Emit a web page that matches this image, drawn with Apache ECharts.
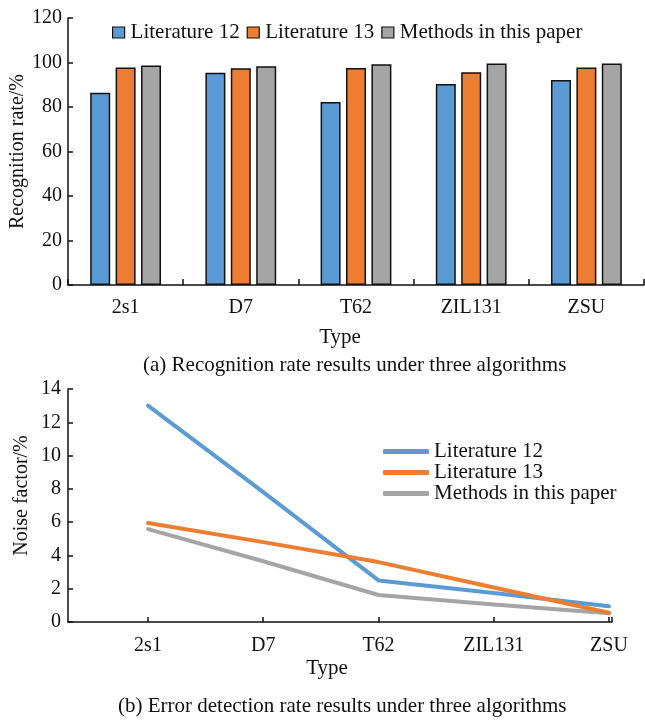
<!DOCTYPE html>
<html>
<head>
<meta charset="utf-8">
<script src="https://cdn.jsdelivr.net/npm/echarts@6/dist/echarts.min.js"></script>
<style>
html,body{margin:0;padding:0;background:#fff;}
#c1{position:absolute;left:0;top:0;width:645px;height:380px;}
#c2{position:absolute;left:0;top:380px;width:645px;height:340px;}
</style>
</head>
<body>
<div id="c1"></div>
<div id="c2"></div>
<script>
// ---- data ----
const categories = ['2s1', 'D7', 'T62', 'ZIL131', 'ZSU'];
const seriesNames = ['Literature 12', 'Literature 13', 'Methods in this paper'];
// (a) recognition rate (%)
const recLit12 = [86.4, 95.4, 82.2, 90.3, 92.1];
const recLit13 = [97.7, 97.4, 97.5, 95.6, 97.8];
const recOurs  = [98.6, 98.3, 99.2, 99.6, 99.6];
// (b) noise factor (%)
const noiseLit12 = [13.0, 7.8, 2.5, 1.74, 0.95];
const noiseLit13 = [5.95, 4.8, 3.6, 2.07, 0.56];
const noiseOurs  = [5.58, 3.65, 1.62, 1.05, 0.52];
const recTicks = [0, 20, 40, 60, 80, 100, 120];
const noiseTicks = [0, 2, 4, 6, 8, 10, 12, 14];

const colors = ['#5B9BD5', '#ED7D31', '#A5A5A5'];
const FONT = "'Liberation Serif', 'Times New Roman', serif";
const txt = {fontFamily: FONT, fontSize: 20, color: '#111'};
const txtL = {fontFamily: FONT, fontSize: 21, color: '#111'};
const axisLine = {show: true, onZero: false, lineStyle: {color: '#111', width: 1.5}};

// ---- chart (a) ----
const c1 = echarts.init(document.getElementById('c1'), null, {renderer: 'canvas'});
c1.setOption({
  animation: false,
  color: colors,
  textStyle: {fontFamily: FONT},
  legend: {
    left: 107, top: 17, itemGap: 7, itemWidth: 12, itemHeight: 11, icon: 'rect',
    itemStyle: {borderColor: '#111', borderWidth: 1.2},
    textStyle: Object.assign({}, txtL, {padding: [0, 0, 0, 1]}),
    data: seriesNames
  },
  grid: {left: 68, right: 1, top: 18, bottom: 95, outerBoundsMode: 'none', containLabel: false},
  xAxis: {
    type: 'category', data: categories, boundaryGap: true,
    axisLine: axisLine,
    axisTick: {show: true, inside: true, length: 6, lineStyle: {color: '#111', width: 1.5}},
    axisLabel: Object.assign({}, txt, {margin: 13}),
    name: 'Type', nameLocation: 'middle', nameGap: 42, nameMoveOverlap: false,
    nameTextStyle: Object.assign({}, txtL, {padding: [0, 32, 0, 0]})
  },
  yAxis: {
    type: 'value', min: recTicks[0], max: recTicks[recTicks.length - 1], interval: recTicks[1] - recTicks[0],
    axisLine: axisLine,
    axisTick: {show: true, inside: true, length: 5, lineStyle: {color: '#111', width: 1.5}},
    splitLine: {show: false},
    axisLabel: Object.assign({}, txt, {margin: 6}),
    name: 'Recognition rate/%', nameLocation: 'middle', nameGap: 40, nameMoveOverlap: false,
    nameTextStyle: txt
  },
  series: [recLit12, recLit13, recOurs].map((d, i) => ({
    name: seriesNames[i], type: 'bar', data: d,
    barWidth: 20, barGap: '27%', barCategoryGap: '38%',
    itemStyle: {color: colors[i], borderColor: '#111', borderWidth: 1.5}
  })),
  graphic: [{
    type: 'text', left: 143, top: 355,
    style: {text: '(a) Recognition rate results under three algorithms', font: '21px ' + FONT, fill: '#111'}
  }]
});

// ---- chart (b) ----
const c2 = echarts.init(document.getElementById('c2'), null, {renderer: 'canvas'});
const toPairs = arr => arr.map((v, i) => [i, v]);
c2.setOption({
  animation: false,
  color: colors,
  textStyle: {fontFamily: FONT},
  legend: {
    orient: 'vertical', left: 378, top: 56, itemGap: 0,
    itemWidth: 46, itemHeight: 5, icon: 'roundRect',
    textStyle: txtL,
    data: seriesNames
  },
  grid: {left: 68, right: 33, top: 9, bottom: 98, outerBoundsMode: 'none', containLabel: false},
  xAxis: {
    type: 'value', min: -0.694, max: 4.026, splitNumber: 5,
    axisLine: axisLine,
    axisTick: {show: true, inside: true, length: 5, lineStyle: {color: '#111', width: 1.5}},
    splitLine: {show: false},
    axisLabel: Object.assign({}, txt, {
      margin: 14, showMinLabel: false,
      formatter: v => (Number.isInteger(v) && categories[v] !== undefined) ? categories[v] : ''
    }),
    name: 'Type', nameLocation: 'middle', nameGap: 36, nameMoveOverlap: false,
    nameTextStyle: Object.assign({}, txtL, {padding: [0, 26, 0, 0]})
  },
  yAxis: {
    type: 'value', min: noiseTicks[0], max: noiseTicks[noiseTicks.length - 1], interval: noiseTicks[1] - noiseTicks[0],
    axisLine: axisLine,
    axisTick: {show: true, inside: true, length: 5, lineStyle: {color: '#111', width: 1.5}},
    splitLine: {show: false},
    axisLabel: Object.assign({}, txt, {margin: 7}),
    name: 'Noise factor/%', nameLocation: 'middle', nameGap: 36, nameMoveOverlap: false,
    nameTextStyle: Object.assign({}, txt, {padding: [0, 0, 0, 20]})
  },
  series: [noiseLit12, noiseLit13, noiseOurs].map((d, i) => ({
    name: seriesNames[i], type: 'line', data: toPairs(d),
    showSymbol: false, symbol: 'none', smooth: false,
    z: [3, 4, 2][i],
    lineStyle: {color: colors[i], width: 4, cap: 'round', join: 'round'}
  })),
  graphic: [{
    type: 'text', left: 118, top: 316,
    style: {text: '(b) Error detection rate results under three algorithms', font: '21px ' + FONT, fill: '#111'}
  }]
});
</script>
</body>
</html>
